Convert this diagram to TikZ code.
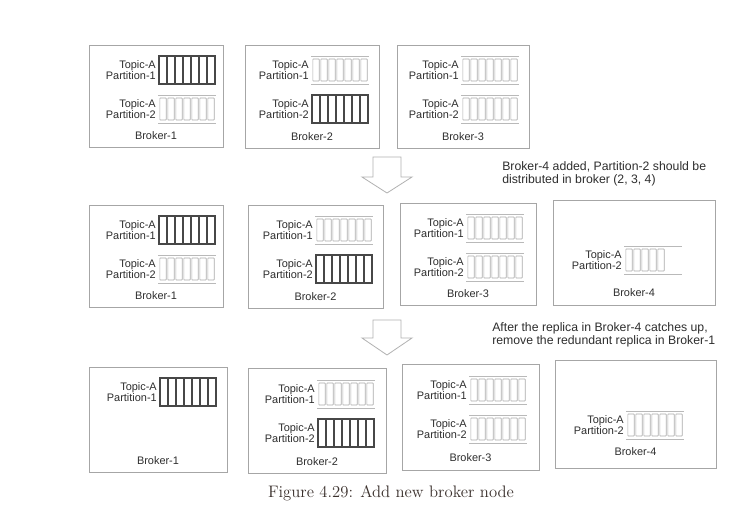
\documentclass[tikz,border=0pt]{standalone}
\usepackage{fontspec}
\newfontfamily\arialfont{Liberation Sans}
\usetikzlibrary{fit,calc}
\definecolor{inkc}{HTML}{2E2E2E}
\definecolor{capc}{HTML}{3A302C}
\tikzset{
  frame/.style={draw=gray!70, line width=0.5pt, inner sep=0pt, outer sep=0pt},
  ptext/.style={font=\arialfont\fontsize{8.2}{8.5}\selectfont, text=inkc, inner sep=0pt, align=right},
  notetext/.style={font=\arialfont\fontsize{9.2}{9.9}\selectfont, text=inkc, inner sep=0pt, align=left},
  darkline/.style={draw=black!72, line width=1.7pt},
  darkouter/.style={draw=black!72, line width=2.1pt},
  lightline/.style={draw=gray!55, line width=0.5pt},
  cellline/.style={draw=gray!65, line width=0.45pt, rounded corners=0.4pt},
  arrowline/.style={draw=gray!60, line width=0.6pt, fill=white},
  darkpart/.pic={
    \draw[darkouter] (0,0) rectangle (56,28);
    \foreach \i in {1,...,6} \draw[darkline] (8*\i,0) -- (8*\i,28);
  },
  lightpart/.pic={
    \draw[lightline] (-1,0) -- (57,0) (-1,28) -- (57,28);
    \foreach \i in {1,...,#1} \draw[cellline] ({8*\i-7.2},3) rectangle ({8*\i-0.8},25);
  }
}
\newcommand\brokerbox[7]{%
  \coordinate (#1-nw) at (#2,#3);
  \coordinate (#1-se) at ({#2+#4},{#3+#5});
  \node[frame, fit=(#1-nw)(#1-se)] (#1) {};
  \node[ptext] (#1-lbl) at ({#2+#4/2},{#3+#5-#7}) {#6};
}
\newcommand\partrow[6]{%
  \node[ptext, anchor=east] (#1) at ({#2-3},{#3+14}) {Topic-A\\Partition-#4};
  \pic (#1-blk) at (#2,#3) {#5=#6};
}
\begin{document}
\begin{tikzpicture}[x=0.75pt, y=-0.75pt]
\useasboundingbox[fill=white] (0,0) rectangle (744,514);

% Row 1
\brokerbox{b11}{89}{45}{134}{102}{Broker-1}{11}
\partrow{b11p1}{159}{56}{1}{darkpart}{7}
\partrow{b11p2}{159}{95}{2}{lightpart}{7}

\brokerbox{b12}{245}{45}{134}{103}{Broker-2}{11}
\partrow{b12p1}{312}{56}{1}{lightpart}{7}
\partrow{b12p2}{312}{95}{2}{darkpart}{7}

\brokerbox{b13}{397}{45}{132}{103}{Broker-3}{11}
\partrow{b13p1}{462}{56}{1}{lightpart}{7}
\partrow{b13p2}{462}{95}{2}{lightpart}{7}

% arrow 1
\draw[arrowline] (373,157) -- (401,157) -- (401,177) -- (412,177) -- (387,193) -- (362,177) -- (373,177) -- cycle;
\node[notetext, anchor=north west] (note1) at (502,161) {Broker-4 added, Partition-2 should be\\distributed in broker (2, 3, 4)};

% Row 2
\brokerbox{b21}{89}{205}{134}{102}{Broker-1}{11}
\partrow{b21p1}{159}{216}{1}{darkpart}{7}
\partrow{b21p2}{159}{255}{2}{lightpart}{7}

\brokerbox{b22}{248}{205}{135}{103}{Broker-2}{11}
\partrow{b22p1}{316}{216}{1}{lightpart}{7}
\partrow{b22p2}{316}{255}{2}{darkpart}{7}

\brokerbox{b23}{400}{203}{136}{102}{Broker-3}{11}
\partrow{b23p1}{467}{214}{1}{lightpart}{7}
\partrow{b23p2}{467}{253}{2}{lightpart}{7}

\brokerbox{b24}{553}{200}{162}{105}{Broker-4}{12}
\partrow{b24p2}{625}{246}{2}{lightpart}{5}

% arrow 2
\draw[arrowline] (373,320) -- (401,320) -- (401,338) -- (412,338) -- (387,355) -- (362,338) -- (373,338) -- cycle;
\node[notetext, anchor=north west] (note2) at (492,322) {After the replica in Broker-4 catches up,\\remove the redundant replica in Broker-1};

% Row 3
\brokerbox{b31}{89}{367}{138}{105}{Broker-1}{11}
\partrow{b31p1}{160}{378}{1}{darkpart}{7}

\brokerbox{b32}{248}{368}{138}{105}{Broker-2}{11}
\partrow{b32p1}{318}{380}{1}{lightpart}{7}
\partrow{b32p2}{318}{419}{2}{darkpart}{7}

\brokerbox{b33}{402}{364}{137}{106}{Broker-3}{12}
\partrow{b33p1}{470}{376}{1}{lightpart}{7}
\partrow{b33p2}{470}{415}{2}{lightpart}{7}

\brokerbox{b34}{555}{360}{161}{108}{Broker-4}{16}
\partrow{b34p2}{627}{411}{2}{lightpart}{7}

% caption
\node[font=\fontsize{12.5}{15}\selectfont, text=capc, inner sep=0pt] (cap) at (391,493) {Figure 4.29: Add new broker node};
\end{tikzpicture}
\end{document}
